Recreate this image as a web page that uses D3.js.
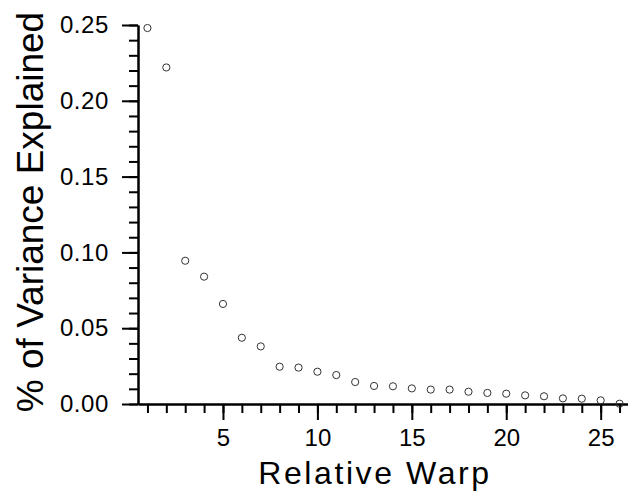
<!DOCTYPE html>
<html>
<head>
<meta charset="utf-8">
<script src="https://cdn.jsdelivr.net/npm/d3@7"></script>
<style>
    body { margin: 0; background: #fff; }
    svg { display: block; font-family: "Liberation Sans", Arial, sans-serif; }
    .axis path, .axis line { stroke: #000; stroke-width: 2; }
    .axis text { fill: #000; font-family: "Liberation Sans", Arial, sans-serif; }
</style>
</head>
<body>
<div id="chart"></div>
<script>
// relative warp number and share of variance explained
let warps = d3.range(1, 27);
let variance = [0.248, 0.222, 0.0945, 0.084, 0.066, 0.0437, 0.038, 0.0246, 0.024, 0.0213,
    0.0191, 0.0145, 0.0119, 0.0117, 0.0103, 0.0095, 0.0095, 0.0081, 0.0073, 0.0068,
    0.0057, 0.0051, 0.0037, 0.0035, 0.0024, 0.0002];

let yMajor = [0, 0.05, 0.10, 0.15, 0.20, 0.25];
let yMinor = d3.range(0, 26).map(d => d / 100);
let xMajor = [5, 10, 15, 20, 25];

let width = 628, height = 497;

let svg = d3.select("#chart").append("svg")
    .attr("width", width)
    .attr("height", height);

let x = d3.scaleLinear()
    .domain([0.5, 26.5])
    .range([138, 629]);

let y = d3.scaleLinear()
    .domain([0, 0.25])
    .range([404, 25]);

// minor ticks first, then the labelled major ones on top
svg.append("g")
    .attr("class", "axis")
    .attr("transform", "translate(0,404)")
    .call(d3.axisBottom(x).tickValues(warps).tickSize(9).tickSizeOuter(0).tickFormat(""));

svg.append("g")
    .attr("class", "axis")
    .attr("transform", "translate(0,404)")
    .call(d3.axisBottom(x).tickValues(xMajor).tickSize(16).tickSizeOuter(0).tickPadding(9))
    .call(g => g.selectAll("text").style("font-size", "24px"));

svg.append("g")
    .attr("class", "axis")
    .attr("transform", "translate(138,0)")
    .call(d3.axisLeft(y).tickValues(yMinor).tickSize(9).tickSizeOuter(0).tickFormat(""));

svg.append("g")
    .attr("class", "axis")
    .attr("transform", "translate(138,0)")
    .call(d3.axisLeft(y).tickValues(yMajor).tickSize(16).tickSizeOuter(0).tickPadding(13)
        .tickFormat(d3.format(".2f")))
    .call(g => g.selectAll("text").style("font-size", "24px").style("letter-spacing", "0.6px"));

// points
svg.append("g")
    .selectAll("circle")
    .data(variance)
    .enter()
    .append("circle")
    .attr("cx", (d, i) => x(warps[i]))
    .attr("cy", d => y(d))
    .attr("r", 3.6)
    .attr("fill", "none")
    .attr("stroke", "#333")
    .attr("stroke-width", 1);

// axis titles
svg.append("text")
    .attr("x", 375)
    .attr("y", 484)
    .attr("text-anchor", "middle")
    .style("font-size", "32px")
    .style("letter-spacing", "2.6px")
    .text("Relative Warp");

svg.append("text")
    .attr("transform", "translate(43,212) rotate(-90)")
    .attr("text-anchor", "middle")
    .style("font-size", "37px")
    .text("% of Variance Explained");
</script>
</body>
</html>
